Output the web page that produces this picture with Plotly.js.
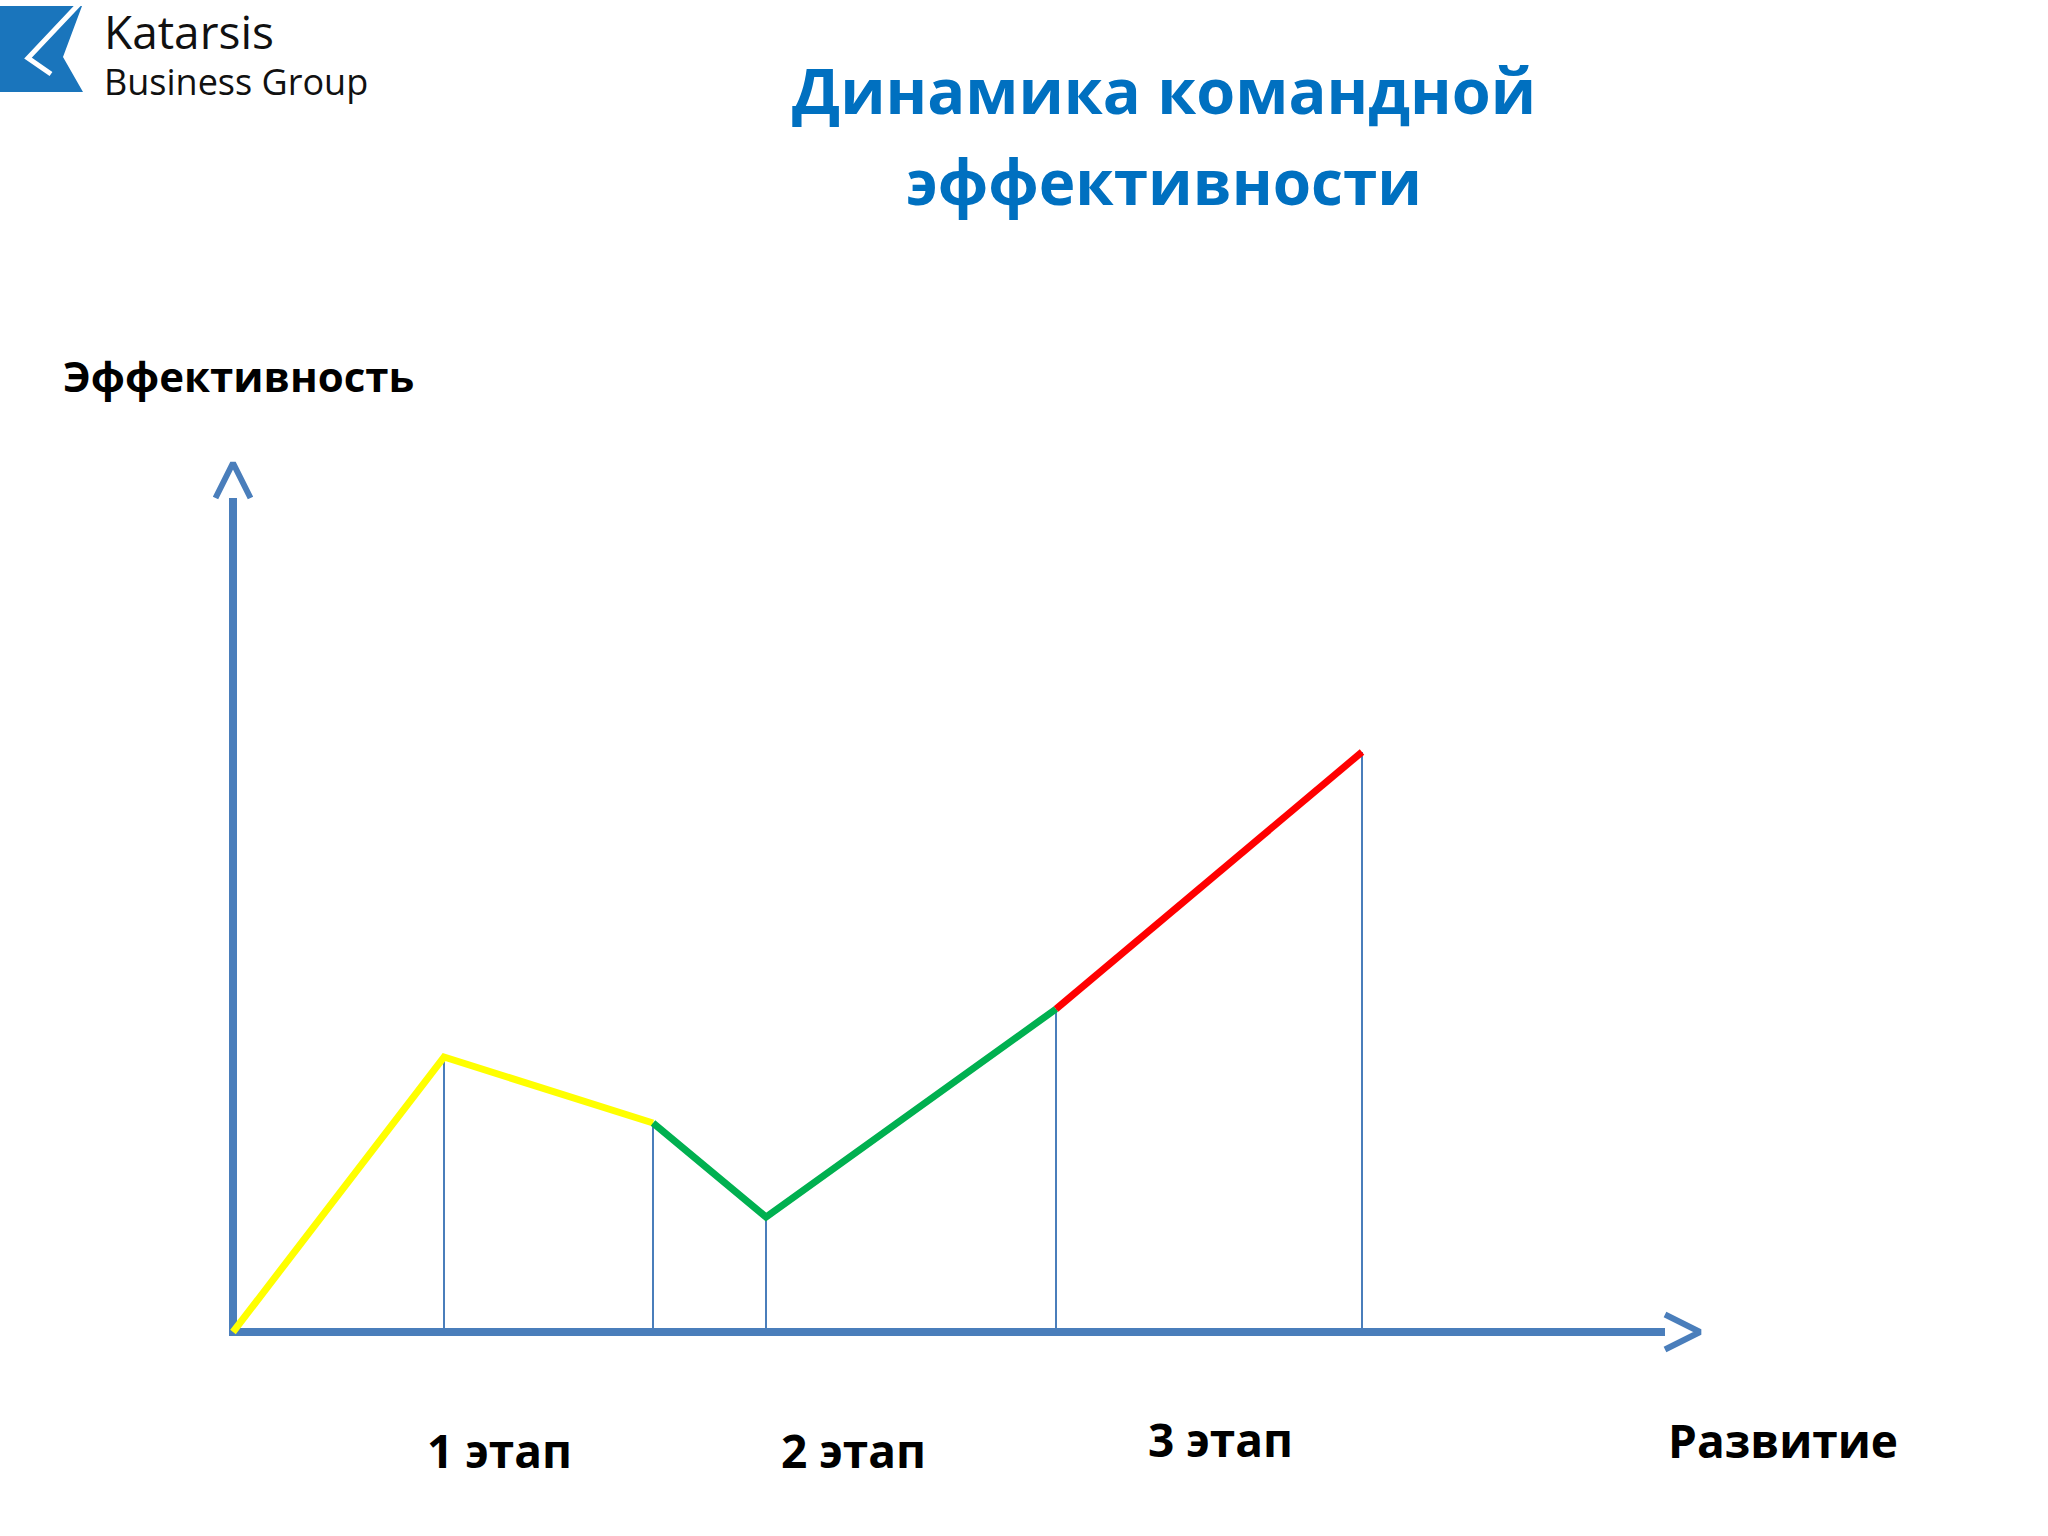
<!DOCTYPE html>
<html>
<head>
<meta charset="utf-8">
<script src="https://cdn.plot.ly/plotly-3.0.1.min.js"></script>
<style>
html,body{margin:0;padding:0;background:#ffffff;}
#chart{width:2048px;height:1536px;}
</style>
</head>
<body>
<div id="chart"></div>
<script>
// ---- data ----
var development = [0, 21.1, 42.0, 53.3, 82.3, 112.9];   // x positions of the break points
var efficiency  = [0, 27.5, 20.9, 11.5, 32.3, 58.0];    // efficiency at each break point
var stageLabels = ['1 этап', '2 этап', '3 этап'];
var stageLabelX = [26.6, 62.0, 98.7];
var stageLabelY = [-11.8, -11.8, -10.7];
var segmentColors = ['#ffff00', '#00b050', '#ff0000'];
var segmentBreaks = [[0, 2], [2, 4], [4, 5]];   // index ranges of each coloured segment
var titleLines = ['Динамика командной', 'эффективности'];
var yAxisLabel = 'Эффективность';
var xAxisLabel = 'Развитие';
var logoLines = ['Katarsis', 'Business Group'];

var W = 2048, H = 1536;
var axisBlue = '#4a7ebb';
var xEnd = 143.2, xTip = 146.7, yEnd = 83.4, yTip = 86.9;

var traces = [];
// vertical drop lines
for (var i = 1; i < development.length; i++) {
  traces.push({
    x: [development[i], development[i]], y: [0, efficiency[i]],
    mode: 'lines', line: {color: axisBlue, width: 2}, hoverinfo: 'skip', showlegend: false
  });
}
// axes drawn as lines with open chevron arrows
traces.push({x: [0, xEnd], y: [0, 0], mode: 'lines', line: {color: axisBlue, width: 8}, hoverinfo: 'skip', showlegend: false});
traces.push({x: [xEnd, xTip, xEnd], y: [1.75, 0, -1.75], mode: 'lines', line: {color: axisBlue, width: 6}, hoverinfo: 'skip', showlegend: false});
traces.push({x: [0, 0], y: [-0.4, yEnd], mode: 'lines', line: {color: axisBlue, width: 8}, hoverinfo: 'skip', showlegend: false});
traces.push({x: [-1.75, 0, 1.75], y: [yEnd, yTip, yEnd], mode: 'lines', line: {color: axisBlue, width: 6}, hoverinfo: 'skip', showlegend: false});
// coloured segments
segmentBreaks.forEach(function (b, k) {
  traces.push({
    x: development.slice(b[0], b[1] + 1), y: efficiency.slice(b[0], b[1] + 1),
    mode: 'lines', line: {color: segmentColors[k], width: 7}, hoverinfo: 'skip', showlegend: false
  });
});

function px(x) { return x / W; }
function py(y) { return 1 - y / H; }

var boldFont = 'Open Sans, sans-serif';
var annotations = [];
// title
annotations.push({text: '<b>' + titleLines[0] + '</b>', xref: 'paper', yref: 'paper', x: px(1164), y: py(89), xanchor: 'center', yanchor: 'middle', showarrow: false, font: {family: boldFont, size: 63, color: '#0070c0'}});
annotations.push({text: '<b>' + titleLines[1] + '</b>', xref: 'paper', yref: 'paper', x: px(1164), y: py(181), xanchor: 'center', yanchor: 'middle', showarrow: false, font: {family: boldFont, size: 62, color: '#0070c0'}});
// axis labels
annotations.push({text: '<b>' + yAxisLabel + '</b>', xref: 'paper', yref: 'paper', x: px(61), y: py(376), xanchor: 'left', yanchor: 'middle', showarrow: false, font: {family: boldFont, size: 42, color: '#000000'}});
annotations.push({text: '<b>' + xAxisLabel + '</b>', xref: 'paper', yref: 'paper', x: px(1783), y: py(1440), xanchor: 'center', yanchor: 'middle', showarrow: false, font: {family: boldFont, size: 46, color: '#000000'}});
// stage labels
stageLabels.forEach(function (s, k) {
  annotations.push({text: '<b>' + s + '</b>', xref: 'x', yref: 'y', x: stageLabelX[k], y: stageLabelY[k], xanchor: 'center', yanchor: 'middle', showarrow: false, font: {family: boldFont, size: 46, color: '#000000'}});
});
// logo text
annotations.push({text: logoLines[0], xref: 'paper', yref: 'paper', x: px(102), y: py(31), xanchor: 'left', yanchor: 'middle', showarrow: false, font: {family: 'Open Sans, sans-serif', size: 46, color: '#111111'}});
annotations.push({text: logoLines[1], xref: 'paper', yref: 'paper', x: px(102), y: py(81), xanchor: 'left', yanchor: 'middle', showarrow: false, font: {family: 'Open Sans, sans-serif', size: 36, color: '#111111'}});

// logo mark (decoration) in paper coordinates
function P(pts) {
  return pts.map(function (p, j) { return (j ? 'L' : 'M') + px(p[0]).toFixed(5) + ',' + py(p[1]).toFixed(5); }).join(' ');
}
var shapes = [
  {type: 'path', xref: 'paper', yref: 'paper', path: P([[0, 6], [82, 6], [63, 57], [83, 92], [0, 92]]) + ' Z', fillcolor: '#1a75bc', line: {width: 0}},
  {type: 'path', xref: 'paper', yref: 'paper', path: P([[80, 3], [28, 58], [51, 74]]), line: {color: '#ffffff', width: 5}}
];

var layout = {
  width: W, height: H,
  margin: {l: 0, r: 0, t: 0, b: 0},
  paper_bgcolor: '#ffffff', plot_bgcolor: '#ffffff',
  xaxis: {range: [-23.3, 181.5], visible: false, fixedrange: true},
  yaxis: {range: [-20.4, 133.2], visible: false, fixedrange: true},
  showlegend: false,
  annotations: annotations,
  shapes: shapes
};

Plotly.newPlot('chart', traces, layout, {staticPlot: true});
</script>
</body>
</html>
